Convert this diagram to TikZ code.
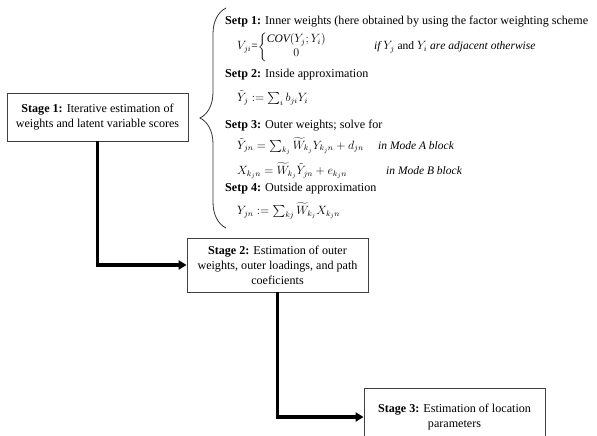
\documentclass[tikz,border=0pt]{standalone}
\usepackage{amsmath}
\usepackage{fontspec}
\setmainfont{Liberation Serif}
\usetikzlibrary{arrows.meta, decorations.pathreplacing}

\begin{document}
\begin{tikzpicture}[x=1pt, y=-1pt, font=\fontsize{12.1}{15}\selectfont]
    \tikzstyle{stage} = [rectangle, minimum width=181pt, inner sep=2pt, text centered, align=center, draw=black!75, line width=0.8pt]
    \tikzstyle{arrow} = [line width=3.5pt, -{Triangle[length=8pt, width=9pt]}]
    \tikzstyle{setp} = [anchor=west, inner sep=0pt]
    \tikzstyle{eqn} = [anchor=west, inner sep=0pt, font=\fontsize{11.5}{14}\selectfont]
    \useasboundingbox (0,0) rectangle (597,436);
    \node[stage, minimum height=48pt](S1) at (97.5,117){\textbf{Stage 1:} Iterative estimation of\\weights and latent variable scores};
    \node[stage, minimum height=54pt](S2) at (277.5,265){\textbf{Stage 2:} Estimation of outer\\weights, outer loadings, and path\\coeficients};
    \node[stage, minimum height=58pt](S3) at (454.5,417){\textbf{Stage 3:} Estimation of location\\parameters};
    \draw[arrow] (S1.south) |- (S2.west);
    \draw[arrow] (S2.south) |- (S3.west);
    % the four steps of stage 1
    \coordinate (braceBot) at (226,228);
    \coordinate (braceTop) at (226,8);
    \draw[decorate, decoration={brace, amplitude=26pt}, line width=0.8pt, draw=black!80] (braceBot) -- (braceTop);
    \node[setp](P1) at (225,22){\textbf{Setp 1:} Inner weights (here obtained by using the factor weighting scheme};
    \node[eqn](V) at (237,47){$V_{ji}$=$\left\{\begin{array}{@{}c@{}}\mathit{COV}(Y_j;Y_i)\\ 0\end{array}\right.$};
    \node[eqn](Vcond) at (374,47){$\mathit{if}\ Y_j$ and $Y_i\ \mathit{are\ adjacent\ otherwise}$};
    \node[setp](P2) at (225,75){\textbf{Setp 2:} Inside approximation};
    \node[eqn](Yj) at (237,98){$\tilde{Y}_j \mathrel{:=} \sum_i b_{ji} Y_i$};
    \node[setp](P3) at (225,126){\textbf{Setp 3:} Outer weights; solve for};
    \node[eqn](Yjn) at (237,146){$\tilde{Y}_{jn} = \sum_{k_j} \widetilde{W}_{k_j} Y_{k_j n} + d_{jn}$};
    \node[eqn](ModeA) at (378,146){$\mathit{in\ Mode\ A\ block}$};
    \node[eqn](Xkjn) at (237,171){$X_{k_j n} = \widetilde{W}_{k_j} \tilde{Y}_{jn} + e_{k_j n}$};
    \node[eqn](ModeB) at (386,171){$\mathit{in\ Mode\ B\ block}$};
    \node[setp](P4) at (225,189){\textbf{Setp 4:} Outside approximation};
    \node[eqn](Yout) at (237,211){$Y_{jn} \mathrel{:=} \sum_{kj} \widetilde{W}_{k_j} X_{k_j n}$};
\end{tikzpicture}
\end{document}
